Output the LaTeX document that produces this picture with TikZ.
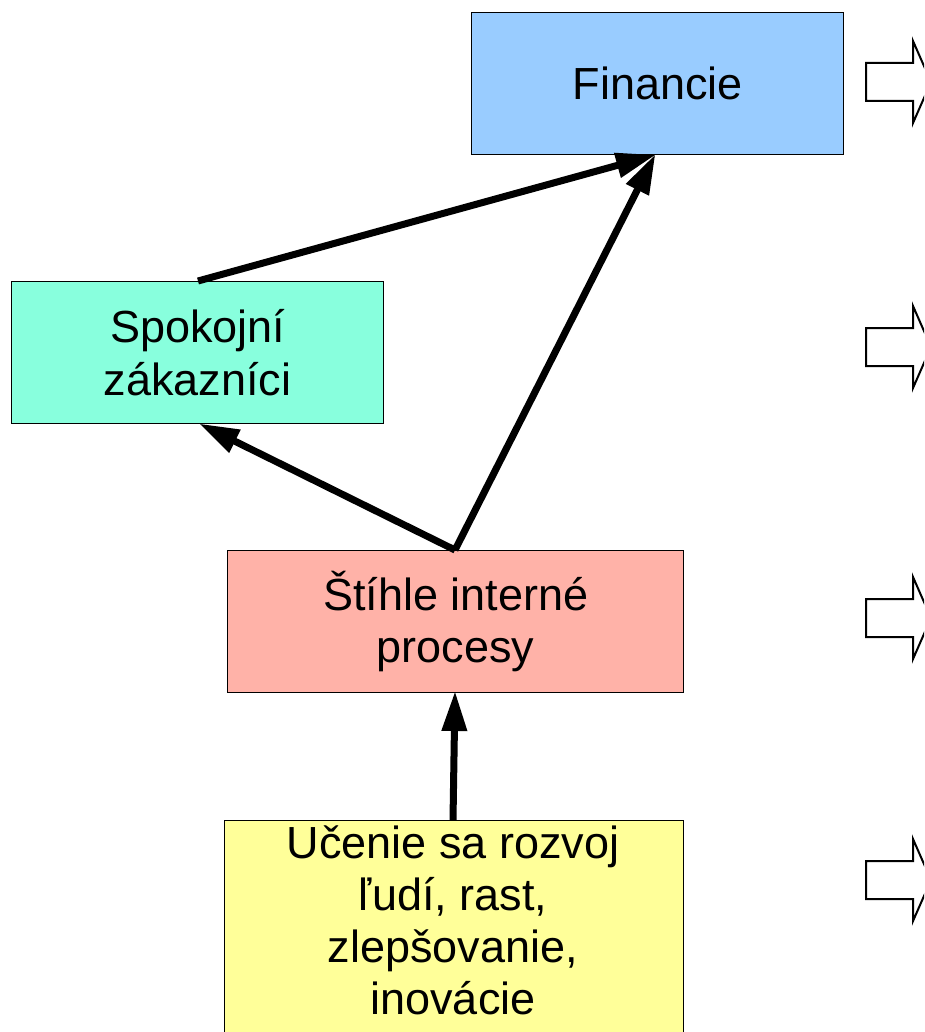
\documentclass[tikz,border=0pt]{standalone}
\usepackage{fontspec}
\setmainfont{Liberation Sans}
\usetikzlibrary{arrows.meta}
\definecolor{finc}{RGB}{153,204,255}
\definecolor{zakc}{RGB}{136,255,221}
\definecolor{proc}{RGB}{255,178,168}
\definecolor{ucc}{RGB}{255,255,153}
\tikzset{
  box/.style={draw=black, line width=1.3pt, inner sep=0pt, anchor=north west, align=center,
    font=\fontsize{45}{52}\selectfont},
  link/.style={line width=7pt, -{Triangle[length=40pt,width=24pt]}, shorten >=-1pt},
  blockarrow/.style={draw=black, line width=2pt, fill=white}
}
\begin{document}
\begin{tikzpicture}[x=1pt,y=-1pt]
\useasboundingbox (0,0) rectangle (924,1032);
\begin{scope}
\clip (0,0) rectangle (924,1032);
\node[box, fill=finc, minimum width=372pt, minimum height=142pt] (fin) at (471,12) {Financie};
\node[box, fill=zakc, minimum width=372pt, minimum height=142pt] (zak) at (11,281) {Spokojní\\zákazníci};
\node[box, fill=proc, minimum width=456pt, minimum height=142pt] (pro) at (227,550) {Štíhle interné\\procesy};
\node[box, fill=ucc, minimum width=459pt, minimum height=240pt, anchor=north west, text depth=0pt] (uc) at (224,820) {};
\node[font=\fontsize{45}{52}\selectfont, align=center, anchor=north] (uctext) at (453,822) {Učenie sa rozvoj\\ľudí, rast,\\zlepšovanie,\\inovácie};
\coordinate (fintip) at (655,155);
\coordinate (zaktop) at (198,281);
\coordinate (protop) at (455,550);
\coordinate (zakbot) at (200,424);
\coordinate (probot) at (455,692);
\coordinate (uctop) at (453,820);
\draw[link] (zaktop) -- (fintip);
\draw[link] (protop) -- (fintip);
\draw[link] (protop) -- (zakbot);
\draw[link] (uctop) -- (probot);
\foreach \yy in {82,347,618,880}{
  \draw[blockarrow] (866,\yy-19) -- (913,\yy-19) -- (913,\yy-41) -- (931,\yy) -- (913,\yy+41) -- (913,\yy+19) -- (866,\yy+19) -- cycle;
}
\end{scope}
\end{tikzpicture}
\end{document}
